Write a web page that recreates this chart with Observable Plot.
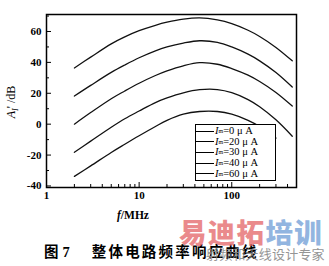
<!DOCTYPE html>
<html><head><meta charset="utf-8">
<script src="https://cdn.jsdelivr.net/npm/d3@7"></script>
<script src="https://cdn.jsdelivr.net/npm/@observablehq/plot@0.6"></script>
<style>
body{margin:0;background:#fff;}
#wrap{position:relative;width:329px;height:266px;overflow:hidden;background:#fff;font-family:"Liberation Serif",serif;color:#000;}
#plot{position:absolute;left:0;top:0;}
.abs{position:absolute;white-space:nowrap;}
#ylab{left:12px;top:102px;transform:translate(-50%,-50%) rotate(-90deg);font-size:12px;}
#xlab{left:133px;top:215px;transform:translate(-50%,-50%);font-size:11.5px;font-weight:bold;}
#legend{left:195px;top:124px;width:81px;height:57px;border:1.3px solid #000;background:#fff;box-sizing:border-box;padding-top:1px;}
.row{display:flex;align-items:center;height:10.6px;font-size:10.5px;line-height:10px;}
.row .ln{display:inline-block;width:18px;border-top:1.1px solid #000;margin-right:1px;}
.row sub{font-size:6px;vertical-align:-2px;}
#cap{left:44px;top:250px;transform:translateY(-50%);font-family:"Noto Sans CJK SC";font-weight:bold;font-size:14.5px;}
#cap .n{margin-left:4px;margin-right:22px;font-family:"Liberation Serif";}
#cap .t{letter-spacing:2.2px;}
#wm1{left:179px;top:231px;transform:translateY(-50%);font-family:"Noto Sans CJK SC";font-weight:900;font-size:27.5px;letter-spacing:1.3px;opacity:0.8;}
#wm2{left:206px;top:253px;transform:translateY(-50%);font-family:"Noto Sans CJK SC";font-size:13px;color:#8a8a8a;letter-spacing:0.2px;opacity:0.9;}
</style></head><body>
<div id="wrap"><div id="plot"></div>
<div class="abs" id="ylab"><i>A</i><sub style="font-size:8px"><i>I</i></sub>' /dB</div>
<div class="abs" id="xlab"><i>f</i>/MHz</div>
<div class="abs" id="legend"></div>
<div class="abs" id="cap">图<span class="n">7</span><span class="t">整体电路频率响应曲线</span></div>
<div class="abs" id="wm1"><span style="color:#e66e70">易迪拓</span><span style="color:#78a3d9">培训</span></div>
<div class="abs" id="wm2">射频和天线设计专家</div>
</div>
<script>
// frequencies (MHz)
const freqs = [2, 3, 5, 7, 10, 15, 20, 30, 45, 70, 100, 150, 200, 300, 450];
// gain curves A_I (dB) for each bias current
const gainIm0  = [36.4, 43.4, 52, 56.5, 60.5, 64, 66, 68, 68.8, 67.5, 65.1, 60.8, 56.8, 49.7, 41];
const gainIm20 = [18.2, 25.1, 33.5, 38.3, 43, 47.5, 50, 52.5, 54, 53, 50, 45.3, 41, 33.4, 24];
const gainIm30 = [0, 7.5, 16.5, 21.5, 26.5, 31.5, 34.5, 37.8, 39.8, 38.8, 36, 31.7, 27.6, 20.5, 11.7];
const gainIm40 = [-18.2, -11, -2, 3.5, 8.5, 14, 17, 20.3, 22.3, 22.4, 20.4, 15.9, 11.3, 2.8, -7.8];
const gainIm60 = [-33.8, -27, -18.3, -13, -7.5, -1.5, 2.5, 6.5, 8.2, 8.2, 6.5, 2.5, -1.5, -9, null];
const seriesLabels = ["0", "20", "30", "40", "60"];
const seriesValues = [gainIm0, gainIm20, gainIm30, gainIm40, gainIm60];
// axis ticks
const xTicks = [1, 10, 100];
const xMinor = [2,3,4,5,6,7,8,9,20,30,40,50,60,70,80,90,200,300,400,500];
const yTicks = [-40, -20, 0, 20, 40, 60];
const yMinor = [-30, -10, 10, 30, 50, 70];

const rows = [];
seriesValues.forEach((vals, i) => vals.forEach((v, j) => rows.push({f: freqs[j], v: v, s: seriesLabels[i]})));

const W = 329, H = 222, mL = 46, mR = 33, mT = 14, mB = 35;
const iw = W - mL - mR, ih = H - mT - mB;

const chart = Plot.plot({
  width: W, height: H,
  marginLeft: mL, marginRight: mR, marginTop: mT, marginBottom: mB,
  x: {type: "log", domain: [1, 500]},
  y: {domain: [-41, 71]},
  style: {fontFamily: "Liberation Serif", fontSize: "11px", fontWeight: "bold", color: "#000", background: "transparent"},
  marks: [
    Plot.line(rows, {x: "f", y: "v", z: "s", stroke: "#111", strokeWidth: 1.3, curve: "catmull-rom"}),
    Plot.gridX(xTicks, {stroke: "#000", strokeOpacity: 1, strokeWidth: 1, insetTop: ih - 5}),
    Plot.gridX(xMinor, {stroke: "#000", strokeOpacity: 1, strokeWidth: 1, insetTop: ih - 3}),
    Plot.gridY(yTicks, {stroke: "#000", strokeOpacity: 1, strokeWidth: 1, insetRight: iw - 5}),
    Plot.gridY(yMinor, {stroke: "#000", strokeOpacity: 1, strokeWidth: 1, insetRight: iw - 3}),
    Plot.axisX(xTicks, {tickSize: 0, tickPadding: 4, label: null, tickFormat: d => String(d)}),
    Plot.axisY(yTicks, {tickSize: 0, tickPadding: 5, label: null, tickFormat: d => (d < 0 ? "-" + Math.abs(d) : String(d))}),
    Plot.frame({stroke: "#000", strokeWidth: 1.5})
  ]
});
document.getElementById("plot").appendChild(chart);

const leg = document.getElementById("legend");
seriesLabels.forEach(s => {
  const r = document.createElement("div");
  r.className = "row";
  r.innerHTML = `<span class="ln"></span><i>I</i><sub>m</sub>=${s} μ A`;
  leg.appendChild(r);
});
</script>
</body></html>
